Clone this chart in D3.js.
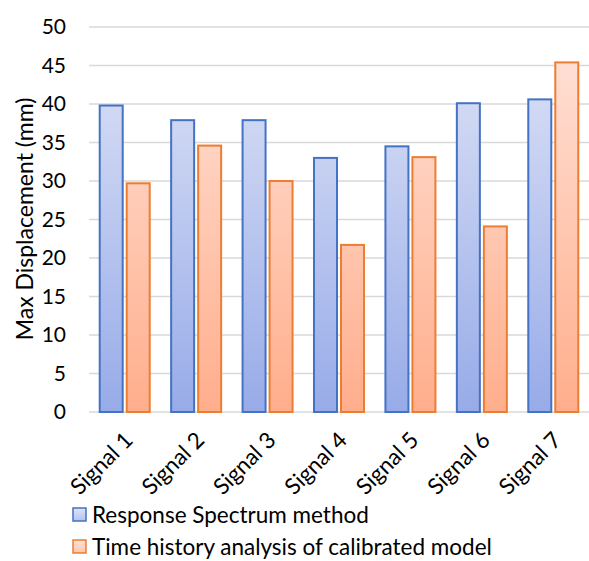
<!DOCTYPE html>
<html>
<head>
<meta charset="utf-8">
<script src="https://cdn.jsdelivr.net/npm/d3@7"></script>
<style>
  body { margin: 0; background: #fff; }
  text { font-family: Lato, "Open Sans", sans-serif; fill: #000; }
</style>
</head>
<body>
<script>
// chart data
const categories = ["Signal 1", "Signal 2", "Signal 3", "Signal 4", "Signal 5", "Signal 6", "Signal 7"];
const responseSpectrum = [39.8, 37.9, 37.9, 33.0, 34.5, 40.1, 40.6];
const timeHistory = [29.7, 34.6, 30.0, 21.7, 33.1, 24.1, 45.4];
const yTicks = [0, 5, 10, 15, 20, 25, 30, 35, 40, 45, 50];
const seriesNames = ["Response Spectrum method", "Time history analysis of calibrated model"];

const W = 589, H = 561;
const margin = { top: 27, right: 0, bottom: 149, left: 89 };
const width = W - margin.left - margin.right,
      height = H - margin.top - margin.bottom;

const svg = d3.select("body").append("svg")
    .attr("width", W)
    .attr("height", H);

// gradients
const defs = svg.append("defs");
const grads = [
  { id: "gBlue", top: "#dfe4f6", bottom: "#97abe8" },
  { id: "gOrange", top: "#ffe3da", bottom: "#ffae8c" }
];
grads.forEach(function (g) {
  const lg = defs.append("linearGradient").attr("id", g.id)
      .attr("x1", 0).attr("x2", 0)
      .attr("gradientUnits", "userSpaceOnUse")
      .attr("y1", 0).attr("y2", height);
  lg.append("stop").attr("offset", "0%").attr("stop-color", g.top);
  lg.append("stop").attr("offset", "100%").attr("stop-color", g.bottom);
});

const g = svg.append("g")
    .attr("transform", "translate(" + margin.left + "," + margin.top + ")");

const x = d3.scaleBand().domain(categories).range([0, width]);
const y = d3.scaleLinear().domain([0, 50]).range([height, 0]);

// gridlines
g.selectAll(".grid")
    .data(yTicks)
    .enter().append("line")
    .attr("x1", 0).attr("x2", width)
    .attr("y1", function (d) { return y(d); })
    .attr("y2", function (d) { return y(d); })
    .attr("stroke", "#d9d9d9")
    .attr("stroke-width", 1.5);

// y axis labels
g.selectAll(".ylab")
    .data(yTicks)
    .enter().append("text")
    .attr("x", -23)
    .attr("y", function (d) { return y(d); })
    .attr("dy", "0.35em")
    .attr("text-anchor", "end")
    .style("font-size", "21px")
    .text(function (d) { return d; });

// bars
const barW = 23, gap = 4;
const pad = (x.bandwidth() - 2 * barW - gap) / 2;
const series = [
  { values: responseSpectrum, fill: "url(#gBlue)", stroke: "#4472c4", off: pad },
  { values: timeHistory, fill: "url(#gOrange)", stroke: "#ed7d31", off: pad + barW + gap }
];
series.forEach(function (s) {
  g.selectAll(null)
      .data(categories)
      .enter().append("rect")
      .attr("x", function (d) { return x(d) + s.off; })
      .attr("y", function (d, i) { return y(s.values[i]); })
      .attr("width", barW)
      .attr("height", function (d, i) { return height - y(s.values[i]); })
      .attr("fill", s.fill)
      .attr("stroke", s.stroke)
      .attr("stroke-width", 2);
});

// x labels
g.selectAll(".xlab")
    .data(categories)
    .enter().append("text")
    .attr("transform", function (d) {
      return "translate(" + (x(d) + x.bandwidth() / 2 + 4) + "," + (height + 24) + ") rotate(-45)";
    })
    .attr("text-anchor", "end")
    .attr("dy", "0.35em")
    .style("font-size", "22.5px")
    .text(function (d) { return d; });

// y title
svg.append("text")
    .attr("transform", "translate(33," + 219 + ") rotate(-90)")
    .attr("text-anchor", "middle")
    .style("font-size", "23px")
    .text("Max Displacement (mm)");

// legend
const leg = svg.append("g").attr("transform", "translate(72,507)");
const legColors = [["url(#lgBlue)", "#4472c4"], ["url(#lgOrange)", "#ed7d31"]];
const lgb = defs.append("linearGradient").attr("id", "lgBlue").attr("x1", 0).attr("y1", 0).attr("x2", 0).attr("y2", 1);
lgb.append("stop").attr("offset", "0%").attr("stop-color", "#dfe4f6");
lgb.append("stop").attr("offset", "100%").attr("stop-color", "#b3c2ee");
const lgo = defs.append("linearGradient").attr("id", "lgOrange").attr("x1", 0).attr("y1", 0).attr("x2", 0).attr("y2", 1);
lgo.append("stop").attr("offset", "0%").attr("stop-color", "#ffe3da");
lgo.append("stop").attr("offset", "100%").attr("stop-color", "#ffc4ab");

seriesNames.forEach(function (name, i) {
  const row = leg.append("g").attr("transform", "translate(0," + (i * 32) + ")");
  row.append("rect")
      .attr("x", 1).attr("y", 1)
      .attr("width", 13).attr("height", 13)
      .attr("fill", legColors[i][0])
      .attr("stroke", legColors[i][1])
      .attr("stroke-width", 1.5);
  row.append("text")
      .attr("x", 20).attr("y", 16)
      .style("font-size", "22.5px")
      .text(name);
});
</script>
</body>
</html>
